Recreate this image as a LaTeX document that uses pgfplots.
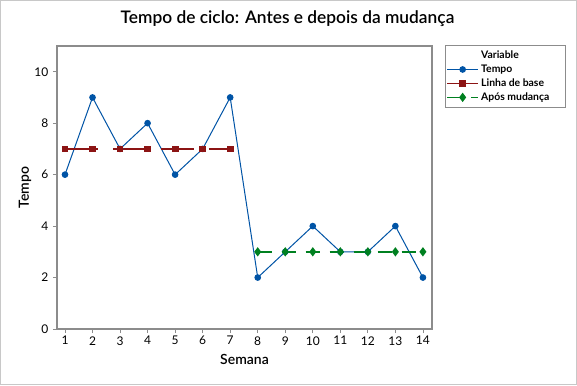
\documentclass[border=0pt]{standalone}
\usepackage{pgfplots}
\pgfplotsset{compat=1.18}
\usepackage{fontspec}
\setmainfont{Lato}
\newfontfamily\semib{Lato Semibold}
\definecolor{mtblue}{RGB}{0,84,166}
\definecolor{mtred}{RGB}{140,20,20}
\definecolor{mtgreen}{RGB}{0,128,32}
\definecolor{axgray}{RGB}{140,140,140}
\begin{document}
\begin{tikzpicture}
\draw[draw={rgb,255:red,200;green,200;blue,200}, line width=0.75pt, fill=white] (0.375pt,0.375pt) rectangle (432.375pt,288.375pt);
\begin{axis}[
  at={(42.75pt,42pt)}, anchor=south west,
  width=281.25pt, height=212.25pt, scale only axis,
  xmin=0.71, xmax=14.33, ymin=0, ymax=11,
  xtick={1,...,14}, ytick={0,2,4,6,8,10},
  tick align=outside, xtick pos=bottom, ytick pos=left,
  major tick length=3pt,
  axis line style={axgray, line width=0.8pt},
  tick style={axgray, line width=0.6pt},
  /pgf/number format/assume math mode=true,
  tick label style={font=\fontsize{9}{10}\selectfont},
  xticklabel style={yshift=1pt},
  title={Tempo de ciclo: Antes e depois da mudança},
  title style={at={(axis description cs:0.6147,1.0495)}, anchor=base, font=\fontsize{13}{15}\selectfont\semib},
  xlabel={Semana}, ylabel={Tempo},
  xlabel style={at={(axis description cs:0.5,-0.1237)}, anchor=base, font=\fontsize{10.5}{12}\selectfont\semib},
  ylabel style={at={(axis description cs:-0.0747,0.5)}, anchor=base, rotate=0, font=\fontsize{10.5}{12}\selectfont\semib},
  legend style={at={(axis description cs:1,1)}, anchor=north west, xshift=9.75pt, yshift=0.75pt,
    draw=axgray, line width=0.6pt, font=\fontsize{7.8}{9}\selectfont\bfseries, row sep=-0.8pt,
    inner xsep=1pt, inner ysep=2pt},
  legend cell align=left,
  legend image code/.code={\draw[mark repeat=2,mark phase=2,#1] plot coordinates {(0cm,0cm) (0.4cm,0cm) (0.8cm,0cm)};},
]
\addlegendimage{empty legend}
\addlegendentry{Variable}
\addplot[mtblue, line width=0.75pt, mark=*, mark size=2.1pt, mark options={solid}] coordinates {
(1,6) (2,9) (3,7) (4,8) (5,6) (6,7) (7,9) (8,2) (9,3) (10,4) (11,3) (12,3) (13,4) (14,2)};
\addlegendentry{Tempo}
\addplot[mtred, line width=1.1pt, dash pattern=on 25pt off 11pt, mark=square*, mark size=2pt, mark options={solid}] coordinates {
(1,7) (2,7) (3,7) (4,7) (5,7) (6,7) (7,7)};
\addlegendentry{Linha de base}
\addplot[mtgreen, line width=1.1pt, dash pattern=on 11pt off 7pt, mark=diamond*, mark size=2.6pt, mark options={solid}] coordinates {
(8,3) (9,3) (10,3) (11,3) (12,3) (13,3) (14,3)};
\addlegendentry{\makebox[60pt][l]{Após mudança}}
\end{axis}
\end{tikzpicture}
\end{document}
